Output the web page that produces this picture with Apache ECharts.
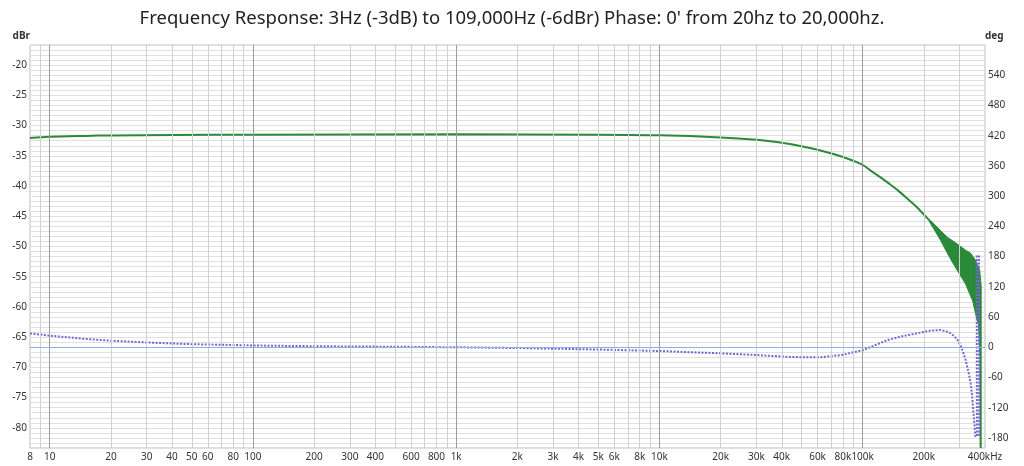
<!DOCTYPE html>
<html>
<head>
<meta charset="utf-8">
<script src="https://cdn.jsdelivr.net/npm/echarts@6/dist/echarts.min.js"></script>
<style>
  html, body { margin: 0; padding: 0; background: #fff; }
  #chart { width: 1024px; height: 466px; }
</style>
</head>
<body>
<div id="chart"></div>
<script>
const titleText = "Frequency Response: 3Hz (-3dB) to 109,000Hz (-6dBr) Phase: 0' from 20hz to 20,000hz.";

// x tick labels (Hz)
const tickFreqs = [8, 10, 20, 30, 40, 50, 60, 80, 100, 200, 300, 400, 600, 800, 1000, 2000, 3000, 4000, 5000, 6000, 8000, 10000, 20000, 30000, 40000, 60000, 80000, 100000, 200000, 400000];
const tickLabels = ['8', '10', '20', '30', '40', '50', '60', '80', '100', '200', '300', '400', '600', '800', '1k', '2k', '3k', '4k', '5k', '6k', '8k', '10k', '20k', '30k', '40k', '60k', '80k', '100k', '200k', '400kHz'];

// vertical grid lines
const decadeLines = [10, 100, 1000, 10000, 100000];
const minorLines = [9, 20, 30, 40, 50, 60, 70, 80, 90, 200, 300, 400, 500, 600, 700, 800, 900,
  2000, 3000, 4000, 5000, 6000, 7000, 8000, 9000, 20000, 30000, 40000, 50000, 60000, 70000, 80000, 90000,
  200000, 300000];

// amplitude (dBr) - green
const amplitude = [[8, -32.05], [10, -31.85], [15, -31.7], [20, -31.62], [40, -31.55], [100, -31.5],
  [1000, -31.45], [5000, -31.5], [10000, -31.6], [20000, -31.95], [30000, -32.35], [40000, -32.85],
  [50000, -33.4], [60000, -34.0], [80000, -35.2], [100000, -36.5], [110000, -37.5], [123000, -38.6],
  [135000, -39.6], [150000, -40.8], [170000, -42.4], [185000, -43.5], [200000, -44.7], [212000, -45.6]];

// noisy amplitude band near the top end (outline: upper edge, then lower edge back)
const ampBand = [[212000, -45.5], [225000, -46.3], [242000, -47.4], [262000, -48.5], [287000, -49.4],
  [321000, -50.6], [340000, -51.1], [355000, -52.0], [368000, -53.0], [377000, -54.0], [383000, -56.5],
  [383000, -83.3], [378500, -83.3], [377500, -68], [372000, -63], [360000, -61.2], [348000, -59.0],
  [321000, -56.2], [300000, -54.6], [281000, -53.0], [260000, -51.0], [242000, -49.0], [225000, -47.2],
  [212000, -45.8]];

// phase (deg) - purple
const phase = [[8, 27.5], [10, 23], [15, 16.5], [20, 13], [30, 9.5], [50, 6], [80, 4.5], [100, 3.5],
  [200, 2], [500, 1], [1000, 0], [2000, -1.5], [5000, -4.5], [10000, -7.5], [20000, -12], [30000, -15.5],
  [45000, -19.5], [62000, -20], [79000, -15.4], [101000, -5.5], [115000, 4], [133000, 14.4],
  [155000, 21.5], [178000, 26.3], [214000, 32.9], [242000, 34.3], [258000, 31.5], [271000, 27.7],
  [283000, 21.5], [293000, 14.4], [305000, 1], [313000, -11], [321000, -25.5], [333000, -52],
  [340000, -72], [345000, -91.6], [351000, -131], [355000, -155], [359000, -178], [361000, '-'],
  [364000, 182], [365000, -178], [369000, '-'], [373500, 182], [374500, -178]];

const green = '#2b8a3a';
const purple = '#7466d4';
const font = 'Noto Sans';

const gridMarks = [];
minorLines.forEach(v => gridMarks.push({ xAxis: v, lineStyle: { color: '#d0d0d0' } }));
decadeLines.forEach(v => gridMarks.push({ xAxis: v, lineStyle: { color: '#9c9c9c' } }));
tickFreqs.forEach((v, i) => gridMarks.push({
  xAxis: v, lineStyle: { color: 'rgba(0,0,0,0)' },
  label: { show: true, formatter: tickLabels[i] }
}));
gridMarks.push({ yAxis: 0, lineStyle: { color: '#8fb0dc' } });

const chart = echarts.init(document.getElementById('chart'));
chart.setOption({
  animation: false,
  textStyle: { fontFamily: font },
  title: {
    text: titleText,
    left: 'center',
    top: 4,
    textStyle: { fontFamily: font, fontSize: 18.5, fontWeight: 'normal', color: '#222' }
  },
  grid: {
    left: 30, right: 39, top: 45, bottom: 18,
    show: true, borderColor: '#bdbdbd', borderWidth: 1
  },
  xAxis: {
    type: 'log', logBase: 10, min: 8, max: 400000,
    axisLine: { show: false }, axisTick: { show: false },
    axisLabel: { show: false }, splitLine: { show: false }
  },
  yAxis: [{
    type: 'value', position: 'left',
    min: -250 / 3, max: -50 / 3, interval: 5 / 6,
    name: 'dBr', nameGap: 4,
    nameTextStyle: { align: 'right', fontSize: 10, fontWeight: 'bold', color: '#333' },
    axisLine: { show: false }, axisTick: { show: false }, splitLine: { show: false },
    axisLabel: {
      margin: 3, fontSize: 10, color: '#333',
      formatter: v => {
        const r = Math.round(v / 5) * 5;
        return Math.abs(v - r) < 1e-3 ? String(r) : '';
      }
    }
  }, {
    type: 'value', position: 'right',
    min: -200, max: 600, interval: 10,
    name: 'deg', nameGap: 4,
    nameTextStyle: { align: 'left', fontSize: 10, fontWeight: 'bold', color: '#333' },
    axisLine: { show: false }, axisTick: { show: false },
    splitLine: { show: true, lineStyle: { color: '#e0e0e0', width: 1 } },
    axisLabel: {
      margin: 3, fontSize: 10, color: '#333',
      formatter: v => (Math.round(v) % 60 === 0 && v < 600 ? String(Math.round(v)) : '')
    }
  }],
  series: [{
    name: 'grid',
    type: 'line',
    yAxisIndex: 1,
    data: [[1000, 0]],
    showSymbol: false,
    silent: true,
    lineStyle: { opacity: 0 },
    markLine: {
      silent: true,
      symbol: ['none', 'none'],
      animation: false,
      lineStyle: { type: 'solid', width: 1 },
      label: { show: false, position: 'start', distance: 4, fontSize: 10, color: '#333', fontFamily: font },
      emphasis: { disabled: true },
      data: gridMarks
    }
  }, {
    name: 'Phase',
    type: 'line',
    yAxisIndex: 1,
    data: phase,
    showSymbol: false,
    connectNulls: false,
    lineStyle: { color: purple, width: 2, type: [2, 1.5] }
  }, {
    name: 'Amplitude',
    type: 'line',
    yAxisIndex: 0,
    data: amplitude,
    showSymbol: false,
    smooth: 0.3,
    lineStyle: { color: green, width: 2 }
  }, {
    name: 'Amplitude band',
    type: 'custom',
    yAxisIndex: 0,
    clip: true,
    data: ampBand,
    renderItem: (params, api) => {
      if (params.dataIndex !== 0) return null;
      return {
        type: 'polygon',
        shape: { points: ampBand.map(p => api.coord(p)) },
        style: { fill: green, stroke: green, lineWidth: 1 }
      };
    }
  }]
});
</script>
</body>
</html>
